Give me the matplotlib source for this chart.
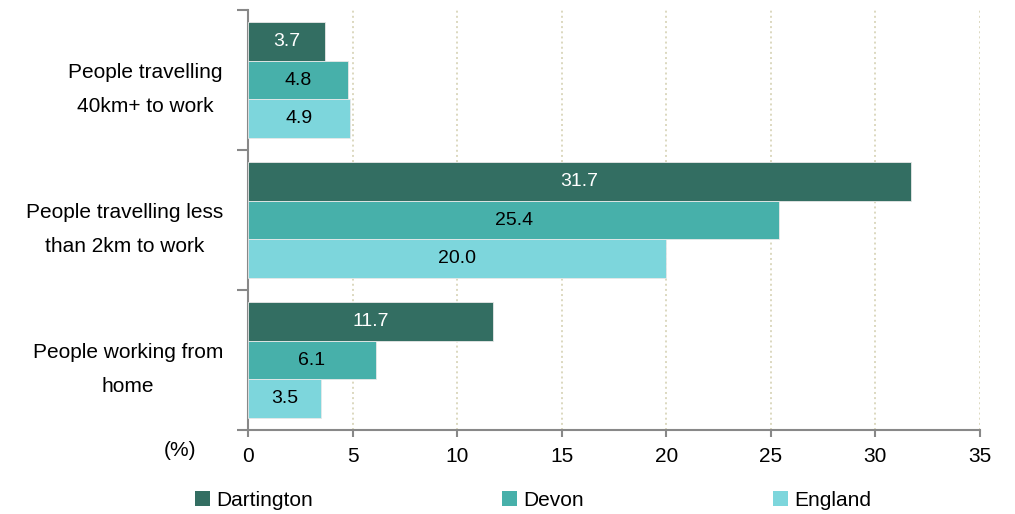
import matplotlib
matplotlib.use("Agg")
from matplotlib import pyplot as plt
from matplotlib.patches import Patch
import numpy as np

plt.rcParams['font.family'] = ['Liberation Sans', 'DejaVu Sans']

categories = ['People travelling\n40km+ to work',
              'People travelling less\nthan 2km to work',
              'People working from\nhome']
series_names = ['Dartington', 'Devon', 'England']
dartington = [3.7, 31.7, 11.7]
devon = [4.8, 25.4, 6.1]
england = [4.9, 20.0, 3.5]
colors = ['#336e62', '#47b0aa', '#7dd6dc']
label_colors = ['white', 'black', 'black']
xticks = [0, 5, 10, 15, 20, 25, 30, 35]

fig = plt.figure(figsize=(10.15, 5.14), dpi=100)
ax = fig.add_axes([248 / 1015, 1 - 430 / 514, 732 / 1015, 420 / 514])

y = np.arange(len(categories))
h = 0.275
offsets = [-0.275, 0, 0.275]
for vals, off, c, lc in zip([dartington, devon, england], offsets, colors, label_colors):
    bars = ax.barh(y + off, vals, height=h, color=c, edgecolor='#e8e8e8', linewidth=0.6, zorder=3)
    for b, v in zip(bars, vals):
        ax.text(v / 2, b.get_y() + b.get_height() / 2, f'{v:.1f}', ha='center', va='center',
                color=lc, fontsize=14, zorder=4)

ax.set_xlim(0, 35)
ax.set_ylim(2.5, -0.5)
ax.set_xticks(xticks)
ax.set_xticklabels([str(t) for t in xticks], fontsize=15)
ax.xaxis.grid(True, linestyle=':', color='#dcd8bf', linewidth=1.4, zorder=0)

ax.set_yticks(y)
ax.set_yticklabels(categories, fontsize=15, linespacing=2.0)
for t in ax.get_yticklabels():
    t.set_multialignment('center')
ax.set_yticks([-0.5, 0.5, 1.5, 2.5], minor=True)
ax.tick_params(axis='y', which='major', length=0, pad=18)
ax.tick_params(axis='y', which='minor', length=8, width=1.5, color='#888888')
ax.tick_params(axis='x', length=5, width=1.5, color='#888888', pad=7)

for s in ['top', 'right']:
    ax.spines[s].set_visible(False)
for s in ['left', 'bottom']:
    ax.spines[s].set_color('#888888')
    ax.spines[s].set_linewidth(1.5)

fig.text(180 / 1015, 1 - 451 / 514, '(%)', fontsize=15, ha='center', va='center')

handles = [Patch(facecolor=c, edgecolor='none') for c in colors]
fig.legend(handles, series_names, loc='center left', bbox_to_anchor=(195 / 1015, 1 - 500 / 514),
           ncol=3, frameon=False, fontsize=15, handlelength=0.7, handleheight=0.7,
           handletextpad=0.3, columnspacing=9.1, borderaxespad=0, borderpad=0)

fig.savefig('out.png', dpi=100)
